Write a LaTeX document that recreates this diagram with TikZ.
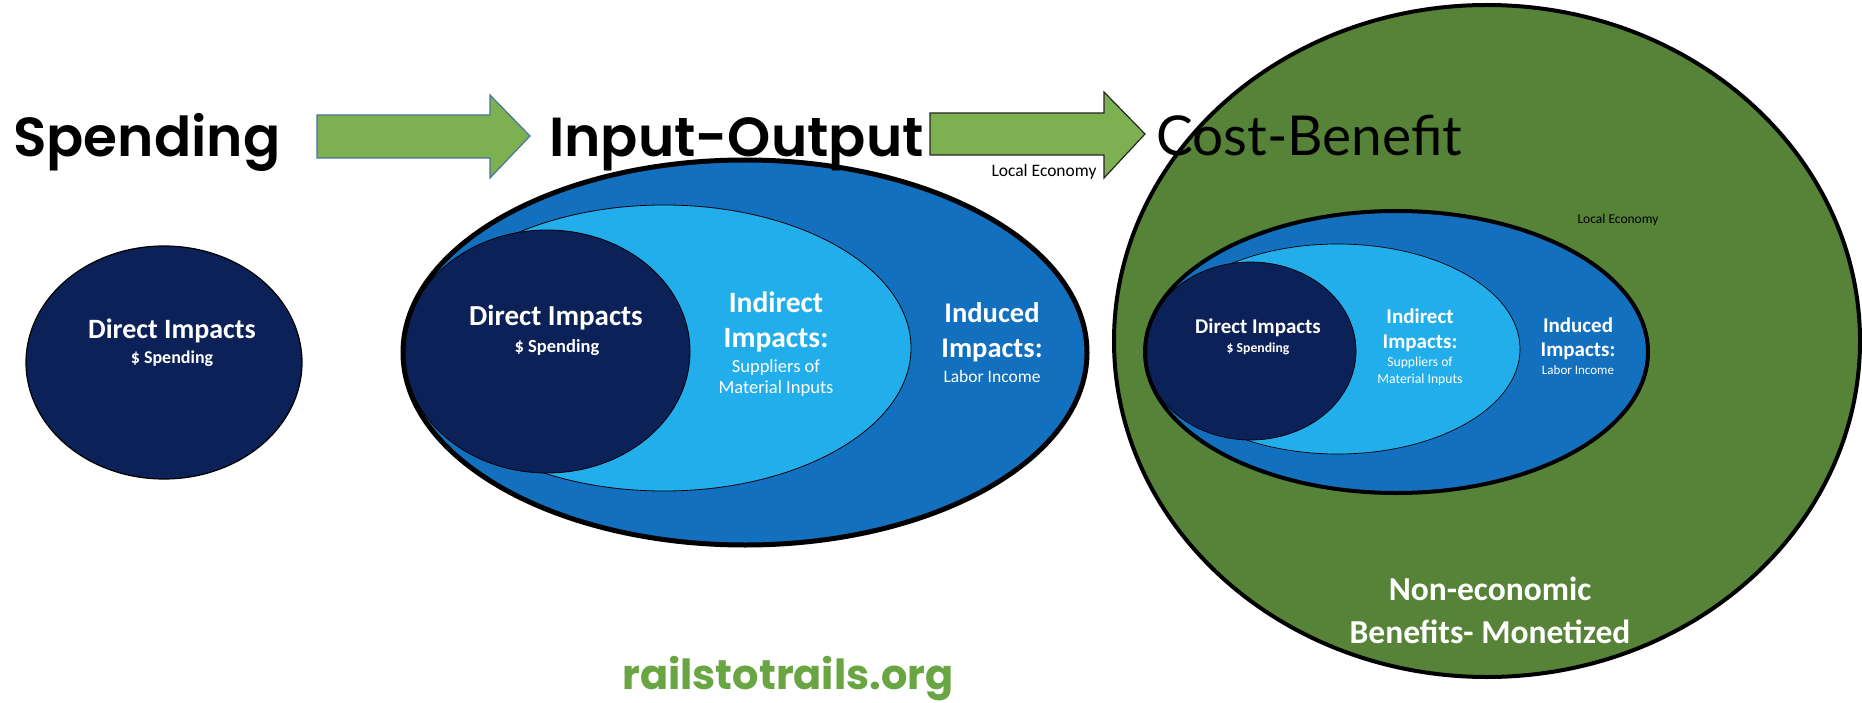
\documentclass[tikz,border=0pt]{standalone}
\usepackage{fontspec}
\setmainfont{Carlito}
\newfontfamily\headfont{Poppins}[UprightFont={* SemiBold}]
\newfontfamily\cbfont{Lato}
\newfontfamily\webfont{Poppins}
\newcommand\fsz[1]{\fontsize{#1}{#1}\selectfont}
\definecolor{navy}{HTML}{0B2157}
\definecolor{midblue}{HTML}{1370BE}
\definecolor{lightblue}{HTML}{21AEEB}
\definecolor{leafgreen}{HTML}{568337}
\definecolor{arrowgreen}{HTML}{7CB051}
\definecolor{arrowedge}{HTML}{4A73A0}
\definecolor{webgreen}{HTML}{6AA543}
\begin{document}
\begin{tikzpicture}[x=1pt,y=-1pt,
  lbl/.style={inner sep=0pt, anchor=base, text=white},
  bigb/.style={lbl, font=\bfseries\fsz{#1}},
  smallr/.style={lbl, font=\fsz{#1}},
  title/.style={inner sep=0pt, anchor=base west, text=black},
  blockarrow/.style={fill=arrowgreen, line width=1.2pt, line join=miter}]
\useasboundingbox (0,0) rectangle (1862,703);
\fill[white] (0,0) rectangle (1862,703);

% ---- block arrows between the stages
\filldraw[blockarrow, draw=arrowedge]
  (317,115) -- (490,115) -- (490,95) -- (530,136) -- (490,178) -- (490,158) -- (317,158) -- cycle;
\filldraw[blockarrow, draw=black!85]
  (930,113) -- (1104,113) -- (1104,92) -- (1145,134) -- (1104,178) -- (1104,155) -- (930,155) -- cycle;
\node[inner sep=0pt, anchor=base, font=\fsz{17.5}] (arrowlbl) at (1044,177) {Local Economy};

% ---- stage 1: spending
\filldraw[fill=navy, draw=black, line width=1.2pt] (164,362.5) ellipse [x radius=138, y radius=116.5];
\node[bigb=28] (d1) at (172,338) {Direct Impacts};
\node[bigb=18] (s1) at (172,363) {\$ Spending};

% ---- stage 2: input-output
\fill[midblue] (745,352.5) ellipse [x radius=342, y radius=192.5];
\filldraw[fill=lightblue, draw=black, line width=0.8pt] (664,348) ellipse [x radius=247, y radius=143];
\filldraw[fill=navy, draw=black, line width=0.8pt] (547,351.5) ellipse [x radius=143, y radius=121.5];
\draw[line width=5pt] (745,352.5) ellipse [x radius=342, y radius=192.5];
\node[bigb=29] (d2) at (556,325) {Direct Impacts};
\node[bigb=18.5] (s2) at (557,352) {\$ Spending};
\node[bigb=29.5] (i2a) at (776,312) {Indirect};
\node[bigb=29.5] (i2b) at (776,347) {Impacts:};
\node[smallr=18.5] (i2c) at (776,372) {Suppliers of};
\node[smallr=18.5] (i2d) at (776,393) {Material Inputs};
\node[bigb=28.5] (n2a) at (992,322) {Induced};
\node[bigb=28.5] (n2b) at (992,357) {Impacts:};
\node[smallr=17.5] (n2c) at (992,382) {Labor Income};

% ---- stage 3: cost-benefit
\filldraw[fill=leafgreen, draw=black, line width=4pt] (1487,341) ellipse [x radius=373, y radius=336];
\fill[midblue] (1396.5,352) ellipse [x radius=251.5, y radius=141];
\filldraw[fill=lightblue, draw=black, line width=0.7pt] (1337.5,349) ellipse [x radius=182.5, y radius=105];
\filldraw[fill=navy, draw=black, line width=0.7pt] (1250.5,351) ellipse [x radius=105.5, y radius=89];
\draw[line width=4pt] (1396.5,352) ellipse [x radius=251.5, y radius=141];
\node[bigb=21] (d3) at (1258,333) {Direct Impacts};
\node[bigb=13.7] (s3) at (1258,352) {\$ Spending};
\node[bigb=21] (i3a) at (1420,323) {Indirect};
\node[bigb=21] (i3b) at (1420,348) {Impacts:};
\node[smallr=13.7] (i3c) at (1420,366) {Suppliers of};
\node[smallr=13.7] (i3d) at (1420,383) {Material Inputs};
\node[bigb=21] (n3a) at (1578,332) {Induced};
\node[bigb=21] (n3b) at (1578,356) {Impacts:};
\node[smallr=13] (n3c) at (1578,374) {Labor Income};
\node[inner sep=0pt, anchor=base, font=\fsz{13.5}] (local3) at (1618,224) {Local Economy};
\node[bigb=33.5] (ne1) at (1490,600) {Non-economic};
\node[bigb=33.5] (ne2) at (1490,643) {Benefits- Monetized};

% ---- stage titles
\node[title, font=\headfont\fsz{55}] (t1) at (13,157) {Spending};
\node[title, font=\headfont\fsz{55}] (t2) at (549,157) {Input-Output};
\node[title, font=\cbfont\fsz{55}] (t3) at (1156,156) {Cost-Benefit};

% ---- footer
\node[inner sep=0pt, anchor=base, text=webgreen, font=\webfont\bfseries\fsz{41.5}] (web) at (788,689) {railstotrails.org};
\end{tikzpicture}
\end{document}
